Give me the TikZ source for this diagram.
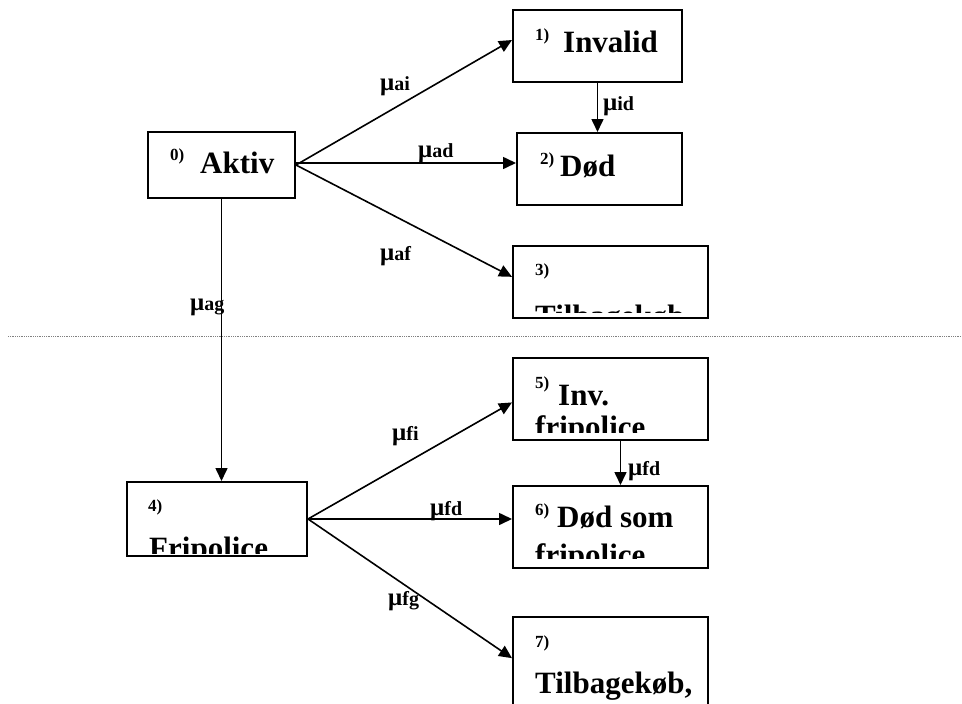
\documentclass[tikz,border=0pt]{standalone}
\usepackage{fontspec}
\setmainfont{Liberation Serif}
\usetikzlibrary{arrows.meta}
\newcommand{\rate}[1]{{\bfseries\fontsize{25}{28}\selectfont μ}{\bfseries\fontsize{20}{24}\selectfont #1}}

\begin{document}
\begin{tikzpicture}[x=1pt, y=-1pt,
    state/.style={draw, line width=2pt, inner sep=0pt},
    arr/.style={-{Triangle[length=13pt,width=12pt]}, line width=1.6pt},
    txt/.style={anchor=base west, inner sep=0pt, font=\bfseries\fontsize{31}{36}\selectfont},
    num/.style={anchor=base west, inner sep=0pt, font=\bfseries\fontsize{17}{20}\selectfont},
    lab/.style={anchor=base west, inner sep=0pt}]

            \useasboundingbox (0,0) rectangle (962,704);

            % states
            \node[state, minimum width=147pt, minimum height=66pt] (b0) at (221.5,165) {};
            \node[state, minimum width=169pt, minimum height=72pt] (b1) at (597.5,46) {};
            \node[state, minimum width=165pt, minimum height=72pt] (b2) at (599.5,169) {};
            \node[state, minimum width=195pt, minimum height=72pt] (b3) at (610.5,282) {};
            \node[state, minimum width=180pt, minimum height=74pt] (b4) at (217,519) {};
            \node[state, minimum width=195pt, minimum height=82pt] (b5) at (610.5,399) {};
            \node[state, minimum width=195pt, minimum height=82pt] (b6) at (610.5,527) {};
            \node[state, minimum width=195pt, minimum height=103pt] (b7) at (610.5,668.5) {};

            % texts in the states
            \node[num] (n0) at (170,160) {0)};
            \node[txt] (t0) at (200,173) {Aktiv};
            \node[num] (n1) at (535,40) {1)};
            \node[txt] (t1) at (563,52) {Invalid};
            \node[num] (n2) at (540,164) {2)};
            \node[txt] (t2) at (560,176) {Død};
            \node[num] (n3) at (535,275) {3)};
            \begin{scope}
                \clip (513,246) rectangle (708,312);
                \node[txt] (t3) at (535,326) {Tilbagekøb};
            \end{scope}
            \node[num] (n4) at (148,511) {4)};
            \begin{scope}
                \clip (127,482) rectangle (307,553);
                \node[txt] (t4) at (149,558) {Fripolice};
            \end{scope}
            \node[num] (n5) at (535,388) {5)};
            \node[txt] (t5) at (558,405) {Inv.};
            \begin{scope}
                \clip (513,358) rectangle (708,432);
                \node[txt] (t5b) at (535,437) {fripolice};
            \end{scope}
            \node[num] (n6) at (535,515) {6)};
            \node[txt] (t6) at (557,527) {Død som};
            \begin{scope}
                \clip (513,486) rectangle (708,558);
                \node[txt] (t6b) at (535,565) {fripolice};
            \end{scope}
            \node[num] (n7) at (535,647) {7)};
            \node[txt] (t7) at (535,693) {Tilbagekøb,};

            % transitions
            \draw[arr] (b0.east) -- (b1.176);
            \draw[arr] ([yshift=2pt]b0.east) -- ([yshift=2pt]b0.east -| b2.west);
            \draw[arr] (b0.east) -- (b3.177);
            \draw[arr] (b0.south) -- (b4.north -| b0.south);
            \draw[arr] (b1.south) -- (b1.south |- b2.north);
            \draw[arr] (b4.east) -- (b5.182);
            \draw[arr] (b4.east) -- (b4.east -| b6.west);
            \draw[arr] (b4.east) -- (b7.174);
            \draw[arr] ([xshift=10pt]b5.south) -- ([xshift=10pt]b6.north);

            % intensities
            \node[lab] (mai) at (380,90) {\rate{ai}};
            \node[lab] (mad) at (418,157) {\rate{ad}};
            \node[lab] (maf) at (380,260) {\rate{af}};
            \node[lab] (mag) at (190,310) {\rate{ag}};
            \node[lab] (mid) at (603,110) {\rate{id}};
            \node[lab] (mfi) at (392,440) {\rate{fi}};
            \node[lab] (mfd) at (430,515) {\rate{fd}};
            \node[lab] (mfg) at (388,605) {\rate{fg}};
            \node[lab] (mfd2) at (628,475) {\rate{fd}};

            % border between the two parts
            \draw[gray, densely dotted, line width=0.8pt] (8,336) -- (962,336);

        \end{tikzpicture}
\end{document}
